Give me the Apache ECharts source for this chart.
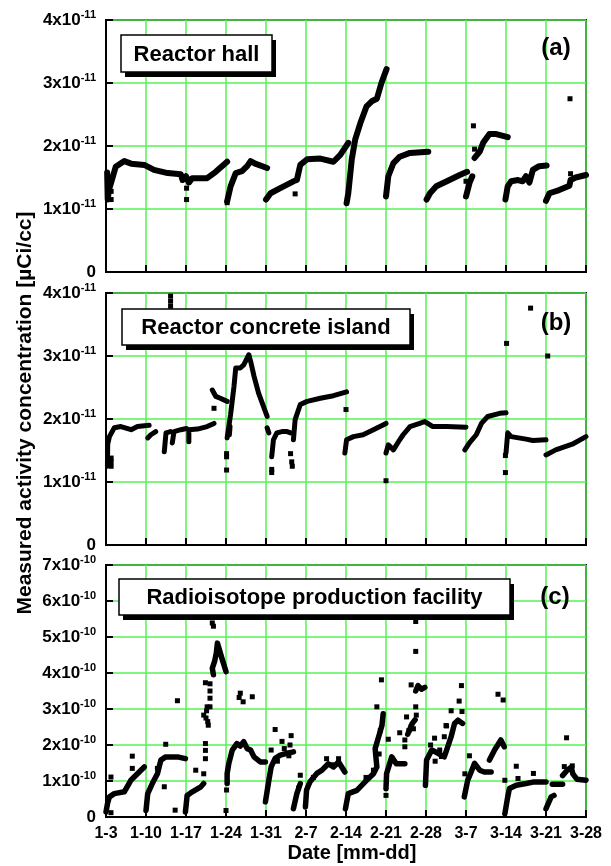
<!DOCTYPE html>
<html><head><meta charset="utf-8">
<script src="https://cdn.jsdelivr.net/npm/echarts@6/dist/echarts.min.js"></script>
<style>html,body{margin:0;padding:0;background:#fff}#c{width:611px;height:866px}</style>
</head><body><div id="c"></div>
<script>
// x: days after 1-3 ; y (a,b): units of 1e-11 uCi/cc ; y (c): units of 1e-10 uCi/cc
const tickLabels = ['1-3','1-10','1-17','1-24','1-31','2-7','2-14','2-21','2-28','3-7','3-14','3-21','3-28'];

const hallSegments = [
 [[0.2,1.58],[0.3,1.15],[0.5,1.3],[1.0,1.45],[1.7,1.67],[3.2,1.76],[4.4,1.72],[6.7,1.70],[8.4,1.62],[10.8,1.57],[13.1,1.55],[13.4,1.46],[14.0,1.52],[14.5,1.42],[15.1,1.49],[17.7,1.49],[19.2,1.59],[21.2,1.75]],
 [[21.2,1.12],[21.8,1.36],[22.7,1.57],[23.8,1.6],[24.7,1.68],[25.3,1.76],[26.1,1.72],[28.2,1.65]],
 [[28.0,1.15],[28.8,1.25],[30.5,1.33],[32.8,1.44],[33.4,1.46],[34.0,1.70],[35.2,1.79],[37.5,1.80],[39.8,1.75],[41.0,1.86],[42.4,2.05]],
 [[42.1,1.09],[42.4,1.25],[43.0,1.78],[43.6,2.10],[44.5,2.36],[45.6,2.63],[46.5,2.71],[47.4,2.75],[48.2,3.0],[49.1,3.22]],
 [[49.0,1.2],[49.4,1.52],[50.3,1.73],[51.4,1.83],[53.2,1.89],[56.4,1.91]],
 [[56.1,1.15],[56.7,1.25],[57.8,1.36],[60.1,1.46],[61.9,1.54],[63.2,1.59]],
 [[63.0,1.2],[63.6,1.41],[64.1,1.52]],
 [[64.5,1.81],[65.4,1.91],[66.0,2.05],[67.1,2.19],[68.3,2.19],[70.3,2.14]],
 [[69.9,1.15],[70.3,1.36],[70.9,1.44],[72.1,1.46],[72.9,1.44],[73.5,1.52],[74.1,1.42],[74.7,1.62],[75.8,1.68],[77.1,1.69]],
 [[77.0,1.13],[77.6,1.25],[79.3,1.30],[81.1,1.37],[81.3,1.46],[82.2,1.50],[84,1.54]]
];
const hallPoints = [[0.9,1.15],[0.9,1.28],[14.1,1.33],[14.1,1.15],[21.2,1.1],[33.1,1.24],[63.0,1.44],[64.3,2.32],[64.5,1.95],[81.3,1.56],[81.2,2.75]];

const islandSegments = [
 [[0.25,1.25],[0.3,1.6],[0.6,1.72],[1.45,1.86],[2.6,1.88],[4.4,1.83],[5.5,1.88],[7.55,1.90]],
 [[7.3,1.70],[7.85,1.75],[8.7,1.80]],
 [[10.2,1.48],[10.5,1.78],[11.3,1.80]],
 [[11.6,1.62],[11.9,1.80],[13.1,1.83],[14.1,1.85]],
 [[14.5,1.64],[14.5,1.83],[16.0,1.84],[17.7,1.88],[18.9,1.93]],
 [[18.6,2.46],[19.2,2.36],[20.0,2.33],[21.2,2.28]],
 [[21.6,1.75],[21.7,1.88]],
 [[21.2,1.7],[21.8,2.07],[22.4,2.52],[22.7,2.81],[23.5,2.81],[24.1,2.86],[25.0,3.02],[25.3,2.92],[25.9,2.68],[26.7,2.41],[28.2,2.04]],
 [[28.2,1.86],[28.5,1.78]],
 [[29.0,1.40],[29.3,1.67],[29.9,1.78],[30.8,1.80],[31.7,1.80],[32.3,1.78]],
 [[32.8,1.67],[33.1,1.99],[34.0,2.23],[35.2,2.28],[37.5,2.33],[39.8,2.37],[42.1,2.43]],
 [[41.8,1.46],[42.1,1.67],[43.3,1.72],[45.0,1.75],[46.8,1.83],[49.0,1.93]],
 [[49.0,1.46],[49.4,1.59],[50.3,1.51],[51.4,1.67],[52.0,1.75],[53.2,1.88],[54.9,1.93],[55.8,1.96],[57.2,1.88],[59.6,1.88],[63.0,1.87]],
 [[62.8,1.51],[63.6,1.62],[64.8,1.75],[65.7,1.93],[66.8,2.04],[68.9,2.09],[70.0,2.10]],
 [[70.0,1.46],[70.3,1.78],[70.9,1.72],[73.5,1.68],[74.7,1.66],[77.0,1.67]],
 [[77.0,1.43],[78.7,1.51],[81.6,1.60],[84,1.72]]
];
const islandPoints = [[0.9,1.38],[0.9,1.25],[0.9,1.32],[18.9,2.17],[21.1,1.4],[21.1,1.45],[21.1,1.19],[11.3,3.95],[11.3,3.87],[11.3,3.79],
 [29.0,1.20],[29.0,1.15],[32.3,1.45],[32.5,1.32],[32.6,1.25],[42.0,2.15],[49.0,1.02],[69.9,1.15],[69.9,1.42],[70.1,3.2],[77.3,3.0],[74.3,3.76]];

const rpfSegments = [
 [[0,0.14],[0.3,0.4],[0.6,0.56],[1.45,0.65],[3.2,0.70],[4.35,1.02],[5.5,1.2],[6.7,1.39]],
 [[7.0,0.18],[7.3,0.65],[8.1,0.93],[9.0,1.2],[9.6,1.58],[10.45,1.67],[12.5,1.67],[13.9,1.62]],
 [[13.9,0.14],[14.2,0.6],[15.1,0.7],[16.6,0.84],[17.1,0.93]],
 [[18.8,3.95],[18.6,4.13],[19.0,4.32],[19.3,4.55],[19.5,4.83],[20.3,4.4],[21.0,4.04]],
 [[21.2,0.93],[21.2,1.21],[21.5,1.49],[22.1,1.86],[22.9,2.04],[23.5,1.97],[24.1,2.09],[24.7,1.90],[25.3,1.86],[25.9,1.67],[27.0,1.53],[27.9,1.53]],
 [[27.9,0.42],[28.5,1.02],[28.9,1.39],[29.6,1.63],[30.5,1.72],[31.7,1.77],[32.8,1.81]],
 [[32.8,0.23],[33.4,0.65],[34.0,0.93]],
 [[34.9,0.28],[35.1,0.75],[35.7,0.98],[36.9,1.21],[37.8,1.3],[38.9,1.48],[39.8,1.39],[40.7,1.53],[41.8,1.25]],
 [[41.9,0.23],[42.4,0.65],[43.9,0.74],[45.3,0.97],[46.8,1.2],[47.4,1.39],[47.1,1.9],[47.7,2.22],[48.3,2.55],[48.5,2.87]],
 [[49.0,0.79],[49.1,1.2],[50.0,1.67],[50.8,1.48],[52.3,1.48]],
 [[52.8,2.3],[53.6,2.6],[54.1,2.7]],
 [[54.2,3.5],[54.6,3.65],[55.2,3.55],[55.8,3.6]],
 [[55.9,0.88],[56.1,1.58],[57.0,1.86],[58.1,1.77],[59.2,1.67],[59.8,1.95],[60.4,2.23],[61.0,2.6],[61.6,2.69],[62.4,2.6]],
 [[62.7,0.56],[63.3,1.02],[63.9,1.25],[64.5,1.49],[65.4,1.3],[66.2,1.25],[67.4,1.25]],
 [[67.1,1.58],[68.0,1.86],[69.1,2.14],[69.7,1.95]],
 [[69.8,0.09],[70.3,0.56],[70.6,0.79],[71.8,0.88],[73.5,0.93],[74.7,0.97],[77.0,0.97]],
 [[77.0,0.23],[77.9,0.56],[78.4,0.6]],
 [[78.1,0.91],[79.9,0.91]],
 [[79.9,1.15],[80.7,1.3],[81.4,1.38],[81.7,1.2],[82.4,1.05],[84,1.02]]
];
const rpfPoints = [[0.87,1.11],[4.6,1.69],[4.6,1.35],[0.87,0.12],
 [10.45,2.02],[10.2,0.84],[12.5,3.23],[12.1,0.19],[9.0,1.35],[15.7,1.3],[17.1,1.2],
 [17.4,1.62],[17.4,1.85],[17.4,2.04],[17.1,2.83],[17.5,2.75],[17.9,2.55],[17.7,3.06],[18.2,3.06],[17.4,3.73],[18.2,3.7],[18.2,3.5],[18.2,3.3],[18.6,5.39],[18.8,5.3],[17.6,2.95],[17.8,2.65],
 [21.0,0.18],[21.1,0.75],[23.5,3.44],[24.0,3.2],[25.6,3.34],[23.3,3.32],
 [29.6,2.43],[30.8,2.1],[32.4,2.26],[32.2,2.0],[28.9,1.86],[30.0,1.55],[31.2,1.9],[32.0,1.7],
 [34.0,1.16],[33.7,0.8],[38.6,1.62],[40.7,1.62],[39.5,1.45],[36.3,1.1],
 [48.2,3.81],[47.4,3.06],[49.4,2.16],[46.8,1.3],[45.5,1.1],[47.8,1.75],[48.0,2.4],
 [51.4,2.34],[52.6,2.78],[52.3,1.95],[52.3,2.14],[53.4,2.51],[54.3,2.83],[54.2,3.06],[53.4,3.67],[54.2,4.6],[54.2,5.43],[49.0,0.6],[53.0,2.4],[53.8,2.45],
 [56.8,2.0],[57.5,2.19],[59.6,2.53],[62.2,3.65],[61.8,3.22],[60.4,2.95],[62.3,2.93],[59.5,2.54],[59.2,2.23],[58.7,1.68],[57.6,1.55],[58.4,1.86],
 [63.6,1.7],[62.8,1.2],[68.6,3.41],[69.5,3.25],
 [71.8,1.41],[74.8,1.21],[69.8,1.02],[72.1,1.07],
 [80.6,2.2],[81.6,1.42],[80.2,1.4]];

const FONT = '"Liberation Sans", Arial, sans-serif';
const GREEN = '#55f555';
const grids = [
  {left:106, width:480, top:20, height:252},
  {left:106, width:480, top:293, height:252},
  {left:106, width:480, top:565, height:252}
].map(g => Object.assign(g, {show:true, borderColor:'#000', borderWidth:2, backgroundColor:'transparent'}));

function xAxis(i, showLabel){
  return {type:'value', gridIndex:i, min:0, max:84, interval:7,
    axisLine:{show:true, onZero:false, lineStyle:{color:'#000', width:2}},
    axisTick:{show:true, inside:true, length:7, lineStyle:{color:'#000', width:2}},
    splitLine:{show:true, lineStyle:{color:GREEN, width:1.5}},
    axisLabel:{show:showLabel, margin:9, color:'#000', fontFamily:FONT, fontWeight:'bold', fontSize:16,
      formatter: v => tickLabels[Math.round(v/7)]}};
}
function yAxis(i, max, exp){
  return {type:'value', gridIndex:i, min:0, max:max, interval:1,
    axisLine:{show:true, onZero:false, lineStyle:{color:'#000', width:2}},
    axisTick:{show:true, inside:true, length:7, lineStyle:{color:'#000', width:2}},
    splitLine:{show:true, lineStyle:{color:GREEN, width:1.5}},
    axisLabel:{margin:10, color:'#000', fontFamily:FONT, fontWeight:'bold', fontSize:17,
      formatter: v => v === 0 ? '{m|0}' : '{m|' + v + 'x10}{s|' + exp + '}',
      rich:{m:{fontFamily:FONT, fontWeight:'bold', fontSize:17, color:'#000', lineHeight:20},
            s:{fontFamily:FONT, fontWeight:'bold', fontSize:11, color:'#000', verticalAlign:'top', padding:[0,0,10,0]}}}};
}

const series = [];
function addPanel(i, segs, pts, w){
  segs.forEach(seg => series.push({type:'line', xAxisIndex:i, yAxisIndex:i, data:seg, showSymbol:false, symbol:'none',
    lineStyle:{color:'#000', width:w, cap:'round', join:'round'}, z:5, silent:true}));
  series.push({type:'scatter', xAxisIndex:i, yAxisIndex:i, data:pts, symbol:'rect', symbolSize:5,
    itemStyle:{color:'#000', opacity:1}, z:6, silent:true});
}
addPanel(0, hallSegments, hallPoints, 6);
addPanel(1, islandSegments, islandPoints, 5);
addPanel(2, rpfSegments, rpfPoints, 5.5);

function box(x, y, w, h, text){
  return [
    {type:'rect', shape:{x:x+4, y:y+5, width:w, height:h}, style:{fill:'#000'}, z:10},
    {type:'rect', shape:{x:x, y:y, width:w, height:h}, style:{fill:'#fff', stroke:'#000', lineWidth:1.5}, z:11},
    {type:'text', x:x+w/2, y:y+h/2+1, z:12, style:{text:text, fill:'#000', font:'bold 22px ' + FONT, textAlign:'center', textVerticalAlign:'middle'}}
  ];
}
function tag(x, y, t){
  return {type:'text', x:x, y:y, z:12, style:{text:t, fill:'#000', font:'bold 24px ' + FONT, textAlign:'center', textVerticalAlign:'middle'}};
}
const graphic = [].concat(
  box(121, 35, 151, 37, 'Reactor hall'),
  box(122, 309, 288, 36, 'Reactor concrete island'),
  box(119, 579, 391, 36, 'Radioisotope production facility'),
  [tag(556, 48, '(a)'), tag(556, 323, '(b)'), tag(555, 597, '(c)'),
   {type:'text', x:25, y:413, rotation:Math.PI/2, z:12, style:{text:'Measured activity concentration [\u00b5Ci/cc]', fill:'#000', font:'bold 21px ' + FONT, textAlign:'center', textVerticalAlign:'middle'}},
   {type:'text', x:352, y:853, z:12, style:{text:'Date [mm-dd]', fill:'#000', font:'bold 20px ' + FONT, textAlign:'center', textVerticalAlign:'middle'}}]
);

const chart = echarts.init(document.getElementById('c'), null, {renderer:'canvas'});
chart.setOption({
  animation:false,
  grid:grids,
  xAxis:[xAxis(0,false), xAxis(1,false), xAxis(2,true)],
  yAxis:[yAxis(0,4,'-11'), yAxis(1,4,'-11'), yAxis(2,7,'-10')],
  series:series,
  graphic:graphic
});
</script></body></html>
